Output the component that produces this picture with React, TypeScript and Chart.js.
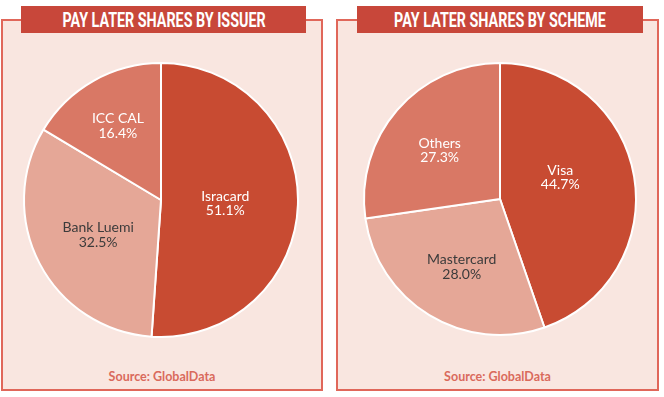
import React, { useEffect, useRef, useState } from "react";
import { Chart, registerables } from "chart.js";

Chart.register(...registerables);

const issuerLabels = ["Isracard", "Bank Luemi", "ICC CAL"];
const issuerShares = [51.1, 32.5, 16.4];
const schemeLabels = ["Visa", "Mastercard", "Others"];
const schemeShares = [44.7, 28.0, 27.3];

const sliceColors = ["#c84b32", "#e5a797", "#d97865"];
const schemeColors = ["#c84b32", "#e5a797", "#d97865"];

const sliceLabels = {
  id: "sliceLabels",
  afterDatasetsDraw(chart: any, _args: any, opts: any) {
    const ctx = chart.ctx;
    const meta = chart.getDatasetMeta(0);
    const labels = chart.data.labels;
    const values = chart.data.datasets[0].data;
    meta.data.forEach((arc: any, i: number) => {
      const p = arc.getProps(["x", "y", "startAngle", "endAngle", "outerRadius"], true);
      const mid = (p.startAngle + p.endAngle) / 2 + ((opts.angleShift && opts.angleShift[i]) || 0) * Math.PI / 180;
      const r = p.outerRadius * opts.radial[i];
      const cx = p.x + Math.cos(mid) * r;
      const cy = p.y + Math.sin(mid) * r;
      ctx.save();
      ctx.font = opts.font;
      ctx.fillStyle = opts.colors[i];
      ctx.textAlign = "center";
      ctx.textBaseline = "middle";
      ctx.fillText(labels[i], cx, cy - opts.lineHeight / 2);
      ctx.fillText(Number(values[i]).toFixed(1) + "%", cx, cy + opts.lineHeight / 2);
      ctx.restore();
    });
  },
};

function PieCanvas(props: {
  labels: string[];
  values: number[];
  colors: string[];
  radius: number;
  radial: number[];
  angleShift: number[];
  textColors: string[];
  style: React.CSSProperties;
}) {
  const ref = useRef<HTMLCanvasElement | null>(null);
  useEffect(() => {
    if (!ref.current) return;
    const chart = new Chart(ref.current, {
      type: "pie",
      data: {
        labels: props.labels,
        datasets: [
          {
            data: props.values,
            backgroundColor: props.colors,
            borderColor: "#ffffff",
            borderWidth: 2,
            radius: props.radius,
          } as any,
        ],
      },
      options: {
        animation: false,
        responsive: false,
        events: [],
        layout: { padding: 0 },
        plugins: {
          legend: { display: false },
          tooltip: { enabled: false },
          sliceLabels: {
            radial: props.radial,
            angleShift: props.angleShift,
            colors: props.textColors,
            font: "14px Lato",
            lineHeight: 14.5,
          },
        } as any,
      },
      plugins: [sliceLabels as any],
    });
    return () => chart.destroy();
  }, []);
  return <canvas ref={ref} width={280} height={280} style={{ position: "absolute", ...props.style }} />;
}

function Title(props: { text: string; left: number; width: number; textWidth: number }) {
  const spanRef = useRef<HTMLSpanElement | null>(null);
  const [scale, setScale] = useState(1);
  useEffect(() => {
    if (spanRef.current) {
      const w = spanRef.current.offsetWidth;
      if (w > 0) setScale(props.textWidth / w);
    }
  }, []);
  return (
    <div
      style={{
        position: "absolute",
        top: 6,
        left: props.left,
        width: props.width,
        height: 27,
        background: "#c8473a",
        overflow: "hidden",
      }}
    >
      <span
        ref={spanRef}
        style={{
          position: "absolute",
          left: "50%",
          top: 0,
          whiteSpace: "nowrap",
          color: "#ffffff",
          fontFamily: "Roboto, 'DejaVu Sans', sans-serif",
          fontWeight: 700,
          fontSize: 21,
          lineHeight: "28px",
          transform: `translateX(-50%) scaleX(${scale})`,
          transformOrigin: "center",
        }}
      >
        {props.text}
      </span>
    </div>
  );
}

const panelStyle: React.CSSProperties = {
  position: "absolute",
  top: 19,
  height: 368,
  border: "2px solid #e0675a",
  background: "#f9e6e0",
  boxSizing: "content-box",
};

const sourceStyle: React.CSSProperties = {
  position: "absolute",
  top: 369,
  fontFamily: "Lato, sans-serif",
  fontWeight: 700,
  fontSize: 12.5,
  color: "#d96a5c",
  textAlign: "center",
};

export default function App() {
  return (
    <div style={{ position: "absolute", left: 0, top: 0, width: 664, height: 397, background: "#ffffff", overflow: "hidden" }}>
      <div style={{ ...panelStyle, left: 1, width: 318 }} />
      <div style={{ ...panelStyle, left: 336, width: 319 }} />
      <Title text="PAY LATER SHARES BY ISSUER" left={21} width={285} textWidth={203} />
      <Title text="PAY LATER SHARES BY SCHEME" left={357} width={286} textWidth={212} />
      <PieCanvas
        labels={issuerLabels}
        values={issuerShares}
        colors={sliceColors}
        radius={137}
        radial={[0.47, 0.525, 0.625]}
        angleShift={[1, -1.5, -0.7]}
        textColors={["#ffffff", "#3b3b3b", "#ffffff"]}
        style={{ left: 21, top: 60 }}
      />
      <PieCanvas
        labels={schemeLabels}
        values={schemeShares}
        colors={schemeColors}
        radius={136}
        radial={[0.47, 0.575, 0.57]}
        angleShift={[-10, -2, -2]}
        textColors={["#ffffff", "#3b3b3b", "#ffffff"]}
        style={{ left: 360, top: 59 }}
      />
      <div style={{ ...sourceStyle, left: 1, width: 322 }}>Source: GlobalData</div>
      <div style={{ ...sourceStyle, left: 336, width: 323 }}>Source: GlobalData</div>
    </div>
  );
}
